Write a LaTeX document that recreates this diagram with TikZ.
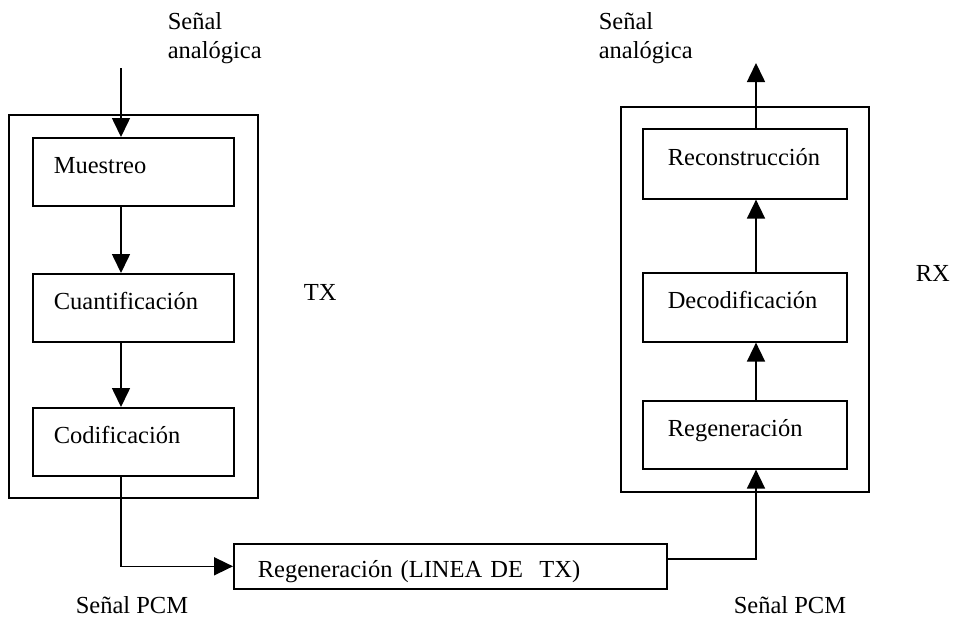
\documentclass[tikz,border=0pt]{standalone}
\usepackage{fontspec}
\setmainfont{Liberation Serif}
\usetikzlibrary{arrows.meta}
\begin{document}
\begin{tikzpicture}[x=1pt,y=-1pt,
  font=\fontsize{24.5}{29}\selectfont,
  line width=1.6pt,
  arr/.style={-{Triangle[length=19pt,width=18pt]}},
  frame/.style={draw, rectangle, inner sep=0pt, anchor=north west},
  stage/.style={draw, rectangle, anchor=north west, inner ysep=0pt,
    align=left, text height=18pt, text depth=15pt},
  txstage/.style={stage, inner xsep=21pt, text width=159pt, minimum height=68pt},
  rxstage/.style={stage, inner xsep=25pt, text width=154pt, minimum height=69pt},
  label/.style={inner sep=0pt, align=left}
]
\useasboundingbox (0,0) rectangle (955,619);

% transmitter
\node[frame, minimum width=249pt, minimum height=383pt] (txframe) at (8,114) {};
\node[txstage] (mues) at (32,137) {Muestreo};
\node[txstage] (cuan) at (32,273) {Cuantificación};
\node[txstage] (codi) at (32,407) {Codificación};
\node[label, anchor=base west] (txlab) at (303,300) {TX};

% receiver
\node[frame, minimum width=248pt, minimum height=385pt] (rxframe) at (620,106) {};
\node[rxstage, minimum height=70pt] (reco) at (642,128) {Reconstrucción};
\node[rxstage] (deco) at (642,272) {Decodificación};
\node[rxstage, minimum height=68pt] (rege) at (642,400) {Regeneración};
\node[label, anchor=base west] (rxlab) at (915,281) {RX};

% transmission line
\node[draw, rectangle, anchor=north west, inner ysep=0pt, inner xsep=24pt,
  text width=385pt, minimum height=45pt, align=left,
  text height=24pt, text depth=2pt] (linea) at (233,543)
  {Regeneración (LINEA DE\ \ TX)};

% signal labels
\node[label, anchor=west] (inlab) at (167,38.5) {Señal\\analógica};
\node[label, anchor=west] (outlab) at (598,38.5) {Señal\\analógica};
\node[label, anchor=base west] (pcmtx) at (75,613) {Señal PCM};
\node[label, anchor=base west] (pcmrx) at (733,613) {Señal PCM};

% signal columns and free ends
\coordinate (lx) at (121,0);
\coordinate (rx) at (756,0);
\coordinate (in) at (121,68);
\coordinate (out) at (756,63);

% connectors
\draw[arr] (in) -- (mues.north -| lx);
\draw[arr] (mues.south -| lx) -- (cuan.north -| lx);
\draw[arr] (cuan.south -| lx) -- (codi.north -| lx);
\draw[arr] (codi.south -| lx) |- (linea.west);
\draw[arr] ([yshift=7.5pt]linea.east) -| (rege.south -| rx);
\draw[arr] (rege.north -| rx) -- (deco.south -| rx);
\draw[arr] (deco.north -| rx) -- (reco.south -| rx);
\draw[arr] (reco.north -| rx) -- (out);
\end{tikzpicture}
\end{document}
